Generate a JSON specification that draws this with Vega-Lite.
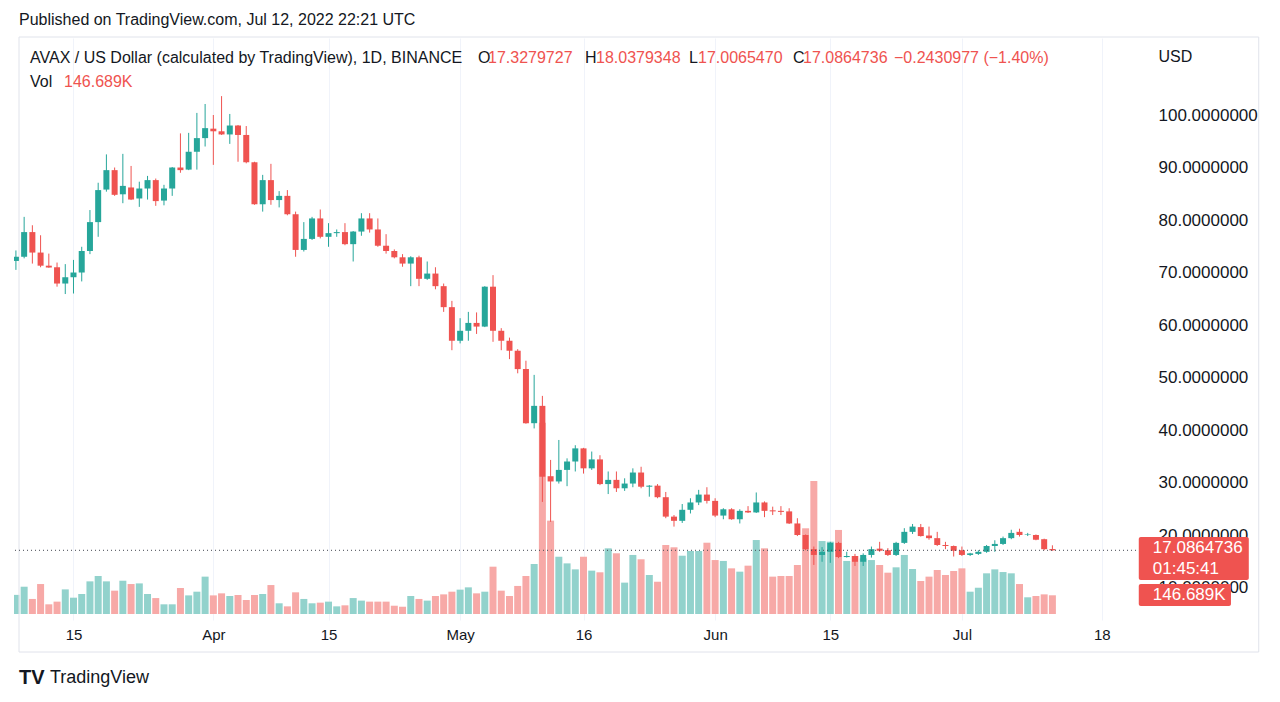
{
"$schema": "https://vega.github.io/schema/vega-lite/v6.json",
"width": 1126, "height": 582,
"autosize": {"type": "none"},
"padding": {"left": 14, "top": 38, "right": 140, "bottom": 82},
"background": "white",
"config": {"view": {"stroke": null}},
"data": {"values": [
{"d":"2022-03-08","o":72.2,"h":74.2,"l":70.5,"c":73.0,"v":150},
{"d":"2022-03-09","o":73.0,"h":80.6,"l":72.7,"c":77.7,"v":214},
{"d":"2022-03-10","o":77.7,"h":79.0,"l":71.7,"c":73.8,"v":118},
{"d":"2022-03-11","o":73.8,"h":77.1,"l":71.0,"c":71.3,"v":235},
{"d":"2022-03-12","o":71.3,"h":73.6,"l":70.9,"c":70.95,"v":76},
{"d":"2022-03-13","o":71.0,"h":71.9,"l":67.3,"c":67.9,"v":97},
{"d":"2022-03-14","o":67.9,"h":71.6,"l":65.9,"c":69.1,"v":193},
{"d":"2022-03-15","o":69.1,"h":72.4,"l":66.0,"c":70.0,"v":128},
{"d":"2022-03-16","o":70.0,"h":74.9,"l":68.3,"c":74.1,"v":157},
{"d":"2022-03-17","o":74.1,"h":81.9,"l":73.5,"c":79.6,"v":256},
{"d":"2022-03-18","o":79.6,"h":87.1,"l":76.8,"c":85.7,"v":298},
{"d":"2022-03-19","o":85.8,"h":92.5,"l":85.4,"c":89.5,"v":256},
{"d":"2022-03-20","o":89.5,"h":90.0,"l":84.6,"c":84.8,"v":183},
{"d":"2022-03-21","o":84.9,"h":92.6,"l":83.2,"c":86.5,"v":261},
{"d":"2022-03-22","o":86.2,"h":90.3,"l":83.8,"c":83.9,"v":235},
{"d":"2022-03-23","o":84.1,"h":87.3,"l":82.5,"c":86.0,"v":240},
{"d":"2022-03-24","o":86.0,"h":88.4,"l":83.9,"c":87.6,"v":157},
{"d":"2022-03-25","o":87.6,"h":87.9,"l":82.7,"c":83.6,"v":125},
{"d":"2022-03-26","o":83.7,"h":86.7,"l":82.8,"c":86.0,"v":76},
{"d":"2022-03-27","o":86.0,"h":90.1,"l":84.6,"c":90.0,"v":76},
{"d":"2022-03-28","o":90.0,"h":96.5,"l":89.0,"c":89.5,"v":204},
{"d":"2022-03-29","o":89.6,"h":96.6,"l":89.5,"c":93.0,"v":146},
{"d":"2022-03-30","o":93.0,"h":100.4,"l":89.6,"c":95.6,"v":175},
{"d":"2022-03-31","o":95.6,"h":102.1,"l":94.0,"c":97.5,"v":293},
{"d":"2022-04-01","o":97.4,"h":100.0,"l":90.5,"c":96.9,"v":146},
{"d":"2022-04-02","o":96.9,"h":103.6,"l":96.2,"c":96.3,"v":162},
{"d":"2022-04-03","o":96.3,"h":100.2,"l":94.5,"c":98.0,"v":141},
{"d":"2022-04-04","o":98.0,"h":98.1,"l":91.1,"c":96.2,"v":149},
{"d":"2022-04-05","o":96.2,"h":97.9,"l":90.8,"c":91.0,"v":110},
{"d":"2022-04-06","o":91.0,"h":91.1,"l":82.9,"c":83.0,"v":149},
{"d":"2022-04-07","o":83.0,"h":88.6,"l":81.6,"c":87.6,"v":157},
{"d":"2022-04-08","o":87.6,"h":90.7,"l":82.9,"c":83.8,"v":227},
{"d":"2022-04-09","o":83.8,"h":85.5,"l":82.4,"c":84.6,"v":84},
{"d":"2022-04-10","o":84.6,"h":85.7,"l":80.9,"c":81.1,"v":60},
{"d":"2022-04-11","o":81.1,"h":81.6,"l":73.0,"c":74.3,"v":170},
{"d":"2022-04-12","o":74.3,"h":79.6,"l":74.0,"c":76.4,"v":118},
{"d":"2022-04-13","o":76.4,"h":80.6,"l":76.2,"c":80.3,"v":84},
{"d":"2022-04-14","o":80.3,"h":82.0,"l":76.5,"c":76.8,"v":89},
{"d":"2022-04-15","o":76.8,"h":79.4,"l":74.9,"c":77.5,"v":97},
{"d":"2022-04-16","o":77.5,"h":78.2,"l":76.8,"c":77.7,"v":60},
{"d":"2022-04-17","o":77.7,"h":79.4,"l":75.2,"c":75.4,"v":68},
{"d":"2022-04-18","o":75.4,"h":77.9,"l":72.1,"c":77.8,"v":125},
{"d":"2022-04-19","o":77.8,"h":81.3,"l":77.0,"c":80.3,"v":105},
{"d":"2022-04-20","o":80.3,"h":81.3,"l":77.6,"c":78.2,"v":97},
{"d":"2022-04-21","o":78.2,"h":80.3,"l":74.9,"c":75.1,"v":97},
{"d":"2022-04-22","o":75.1,"h":77.3,"l":73.6,"c":74.1,"v":97},
{"d":"2022-04-23","o":74.1,"h":74.4,"l":72.7,"c":72.9,"v":65},
{"d":"2022-04-24","o":72.9,"h":73.5,"l":71.1,"c":71.7,"v":57},
{"d":"2022-04-25","o":71.7,"h":73.1,"l":67.4,"c":72.9,"v":141},
{"d":"2022-04-26","o":72.9,"h":73.2,"l":67.4,"c":68.8,"v":118},
{"d":"2022-04-27","o":68.8,"h":72.1,"l":68.6,"c":69.8,"v":105},
{"d":"2022-04-28","o":69.8,"h":71.0,"l":66.8,"c":67.4,"v":141},
{"d":"2022-04-29","o":67.4,"h":67.9,"l":62.5,"c":63.4,"v":154},
{"d":"2022-04-30","o":63.4,"h":64.6,"l":55.2,"c":57.0,"v":175},
{"d":"2022-05-01","o":57.0,"h":61.3,"l":56.5,"c":58.9,"v":191},
{"d":"2022-05-02","o":58.9,"h":62.5,"l":57.0,"c":60.4,"v":209},
{"d":"2022-05-03","o":60.4,"h":62.4,"l":58.3,"c":59.7,"v":162},
{"d":"2022-05-04","o":59.7,"h":67.4,"l":59.6,"c":67.3,"v":175},
{"d":"2022-05-05","o":67.3,"h":69.5,"l":56.8,"c":58.9,"v":371},
{"d":"2022-05-06","o":58.9,"h":59.4,"l":55.2,"c":57.0,"v":183},
{"d":"2022-05-07","o":57.0,"h":57.6,"l":53.5,"c":55.1,"v":141},
{"d":"2022-05-08","o":55.1,"h":55.4,"l":50.8,"c":51.6,"v":220},
{"d":"2022-05-09","o":51.6,"h":53.2,"l":41.2,"c":41.3,"v":298},
{"d":"2022-05-10","o":41.3,"h":50.5,"l":40.3,"c":44.6,"v":392},
{"d":"2022-05-11","o":44.6,"h":46.5,"l":26.3,"c":31.1,"v":1500},
{"d":"2022-05-12","o":31.2,"h":34.3,"l":22.5,"c":30.2,"v":732},
{"d":"2022-05-13","o":30.2,"h":38.1,"l":29.8,"c":32.4,"v":449},
{"d":"2022-05-14","o":32.4,"h":34.6,"l":29.3,"c":34.0,"v":397},
{"d":"2022-05-15","o":34.0,"h":37.1,"l":32.1,"c":36.5,"v":350},
{"d":"2022-05-16","o":36.5,"h":36.6,"l":31.7,"c":32.7,"v":449},
{"d":"2022-05-17","o":32.7,"h":35.9,"l":32.4,"c":34.4,"v":340},
{"d":"2022-05-18","o":34.4,"h":35.2,"l":29.5,"c":29.7,"v":327},
{"d":"2022-05-19","o":29.7,"h":32.1,"l":27.8,"c":30.5,"v":515},
{"d":"2022-05-20","o":30.5,"h":32.1,"l":28.2,"c":28.9,"v":476},
{"d":"2022-05-21","o":28.9,"h":30.8,"l":28.4,"c":29.8,"v":246},
{"d":"2022-05-22","o":29.8,"h":32.7,"l":29.1,"c":31.9,"v":463},
{"d":"2022-05-23","o":31.9,"h":33.0,"l":28.9,"c":29.2,"v":429},
{"d":"2022-05-24","o":29.2,"h":29.5,"l":27.3,"c":29.4,"v":306},
{"d":"2022-05-25","o":29.4,"h":29.7,"l":27.0,"c":27.2,"v":253},
{"d":"2022-05-26","o":27.2,"h":28.2,"l":23.2,"c":23.5,"v":541},
{"d":"2022-05-27","o":23.5,"h":23.8,"l":21.6,"c":22.7,"v":523},
{"d":"2022-05-28","o":22.7,"h":25.9,"l":22.3,"c":24.8,"v":457},
{"d":"2022-05-29","o":24.8,"h":27.0,"l":24.1,"c":26.2,"v":494},
{"d":"2022-05-30","o":26.2,"h":28.6,"l":25.7,"c":27.7,"v":494},
{"d":"2022-05-31","o":27.7,"h":29.1,"l":26.0,"c":26.5,"v":559},
{"d":"2022-06-01","o":26.5,"h":27.0,"l":23.4,"c":23.7,"v":423},
{"d":"2022-06-02","o":23.7,"h":25.1,"l":23.0,"c":24.9,"v":416},
{"d":"2022-06-03","o":24.9,"h":25.1,"l":22.9,"c":23.0,"v":358},
{"d":"2022-06-04","o":23.0,"h":24.9,"l":22.2,"c":24.6,"v":332},
{"d":"2022-06-05","o":24.6,"h":25.5,"l":24.2,"c":24.3,"v":379},
{"d":"2022-06-06","o":24.3,"h":28.1,"l":24.2,"c":26.2,"v":580},
{"d":"2022-06-07","o":26.2,"h":26.4,"l":23.4,"c":24.6,"v":515},
{"d":"2022-06-08","o":24.7,"h":25.4,"l":23.8,"c":24.5,"v":293},
{"d":"2022-06-09","o":24.6,"h":25.5,"l":23.8,"c":24.4,"v":298},
{"d":"2022-06-10","o":24.5,"h":25.1,"l":22.1,"c":22.2,"v":298},
{"d":"2022-06-11","o":22.2,"h":23.2,"l":19.8,"c":20.0,"v":384},
{"d":"2022-06-12","o":20.0,"h":20.1,"l":17.1,"c":17.3,"v":672},
{"d":"2022-06-13","o":17.3,"h":17.8,"l":14.3,"c":16.2,"v":1043},
{"d":"2022-06-14","o":16.2,"h":17.7,"l":14.9,"c":16.8,"v":572},
{"d":"2022-06-15","o":16.8,"h":18.7,"l":14.7,"c":18.5,"v":567},
{"d":"2022-06-16","o":18.5,"h":18.7,"l":15.6,"c":15.8,"v":659},
{"d":"2022-06-17","o":15.8,"h":16.8,"l":15.7,"c":16.0,"v":416},
{"d":"2022-06-18","o":16.0,"h":16.4,"l":14.1,"c":14.9,"v":455},
{"d":"2022-06-19","o":14.9,"h":16.5,"l":14.1,"c":16.2,"v":436},
{"d":"2022-06-20","o":16.2,"h":17.8,"l":15.7,"c":17.3,"v":423},
{"d":"2022-06-21","o":17.4,"h":18.7,"l":16.8,"c":17.0,"v":384},
{"d":"2022-06-22","o":17.1,"h":17.5,"l":16.0,"c":16.2,"v":324},
{"d":"2022-06-23","o":16.2,"h":18.7,"l":16.0,"c":18.5,"v":366},
{"d":"2022-06-24","o":18.5,"h":21.3,"l":18.3,"c":20.6,"v":463},
{"d":"2022-06-25","o":20.6,"h":22.1,"l":20.2,"c":21.6,"v":353},
{"d":"2022-06-26","o":21.5,"h":22.1,"l":19.7,"c":19.8,"v":259},
{"d":"2022-06-27","o":19.9,"h":21.6,"l":19.1,"c":19.4,"v":293},
{"d":"2022-06-28","o":19.4,"h":20.6,"l":17.9,"c":18.1,"v":345},
{"d":"2022-06-29","o":18.1,"h":18.7,"l":17.3,"c":17.9,"v":306},
{"d":"2022-06-30","o":17.9,"h":18.0,"l":15.9,"c":17.0,"v":337},
{"d":"2022-07-01","o":17.1,"h":17.8,"l":16.0,"c":16.2,"v":358},
{"d":"2022-07-02","o":16.2,"h":16.6,"l":16.0,"c":16.5,"v":175},
{"d":"2022-07-03","o":16.4,"h":17.1,"l":16.2,"c":16.8,"v":206},
{"d":"2022-07-04","o":16.8,"h":18.1,"l":16.6,"c":17.9,"v":319},
{"d":"2022-07-05","o":17.9,"h":19.0,"l":16.8,"c":18.3,"v":350},
{"d":"2022-07-06","o":18.3,"h":19.7,"l":18.1,"c":19.4,"v":329},
{"d":"2022-07-07","o":19.4,"h":21.0,"l":19.2,"c":20.4,"v":319},
{"d":"2022-07-08","o":20.6,"h":21.2,"l":19.7,"c":20.0,"v":235},
{"d":"2022-07-09","o":20.0,"h":20.4,"l":19.8,"c":20.1,"v":131},
{"d":"2022-07-10","o":20.0,"h":20.1,"l":19.0,"c":19.1,"v":141},
{"d":"2022-07-11","o":19.2,"h":19.3,"l":17.1,"c":17.3,"v":154},
{"d":"2022-07-12","o":17.3279727,"h":18.0379348,"l":17.006547,"c":17.0864736,"v":146.689}
]},
"layer": [
{
 "mark": {"type": "bar", "size": 7, "clip": true},
 "encoding": {
  "x": {"field": "d", "type": "temporal",
        "scale": {"type": "utc", "domain": [{"year":2022,"month":3,"date":8,"hours":9,"utc":true},{"year":2022,"month":7,"date":22,"hours":1,"utc":true}]},
        "axis": {"title": null, "ticks": false, "domain": false, "labelPadding": 7, "labelFont": "Liberation Sans", "labelFontSize": 15, "labelColor": "#131722", "gridColor": "#f0f3fa", "labelOverlap": false, "labelFlush": false,
                 "values": [{"year":2022,"month":3,"date":15,"utc":true},{"year":2022,"month":4,"date":1,"utc":true},{"year":2022,"month":4,"date":15,"utc":true},{"year":2022,"month":5,"date":1,"utc":true},{"year":2022,"month":5,"date":16,"utc":true},{"year":2022,"month":6,"date":1,"utc":true},{"year":2022,"month":6,"date":15,"utc":true},{"year":2022,"month":7,"date":1,"utc":true},{"year":2022,"month":7,"date":18,"utc":true}],
                 "labelExpr": "utcdate(datum.value) == 1 ? utcFormat(datum.value, '%b') : utcFormat(datum.value, '%-d')"}},
  "y": {"field": "v", "type": "quantitative", "scale": {"domain": [-47, 4516]}, "axis": null},
  "color": {"condition": {"test": "datum.c >= datum.o", "value": "#92d2cc"}, "value": "#f7a9a7"}
 }
},
{
 "layer": [
  {
   "data": {"values": [{}]},
   "mark": {"type": "rect", "fill": null, "filled": false, "stroke": "#e0e3eb", "strokeWidth": 1, "clip": false},
   "encoding": {
    "x": {"datum": {"year":2022,"month":3,"date":8,"hours":9,"utc":true}, "type": "temporal", "scale": {"type": "utc", "domain": [{"year":2022,"month":3,"date":8,"hours":9,"utc":true},{"year":2022,"month":7,"date":22,"hours":1,"utc":true}]}},
    "x2": {"datum": {"year":2022,"month":8,"date":6,"hours":2,"utc":true}},
    "y": {"datum": 114.86, "type": "quantitative", "scale": {"domain": [3.81, 114.67]}},
    "y2": {"datum": -2.29}
   }
  },
  {
   "mark": {"type": "rule", "strokeWidth": 1, "clip": true},
   "encoding": {
    "x": {"field": "d", "type": "temporal", "scale": {"type": "utc", "domain": [{"year":2022,"month":3,"date":8,"hours":9,"utc":true},{"year":2022,"month":7,"date":22,"hours":1,"utc":true}]}},
    "y": {"field": "l", "type": "quantitative", "scale": {"domain": [3.81, 114.67]},
          "axis": {"orient": "right", "values": [10,20,30,40,50,60,70,80,90,100], "format": ".7f", "ticks": false, "domain": false, "labelPadding": 18, "labelFont": "Liberation Sans", "labelFontSize": 17, "labelColor": "#131722", "gridColor": "#f0f3fa",
                   "title": "USD", "titleAngle": 0, "titleAlign": "left", "titleBaseline": "middle", "titleX": 18, "titleY": 18, "titleFont": "Liberation Sans", "titleFontSize": 16, "titleFontWeight": "normal", "titleColor": "#131722"}},
    "y2": {"field": "h"},
    "color": {"condition": {"test": "datum.c >= datum.o", "value": "#26a69a"}, "value": "#ef5350"}
   }
  },
  {
   "mark": {"type": "bar", "size": 6, "clip": true},
   "encoding": {
    "x": {"field": "d", "type": "temporal", "scale": {"type": "utc", "domain": [{"year":2022,"month":3,"date":8,"hours":9,"utc":true},{"year":2022,"month":7,"date":22,"hours":1,"utc":true}]}},
    "y": {"field": "o", "type": "quantitative", "scale": {"domain": [3.81, 114.67]}},
    "y2": {"field": "c"},
    "color": {"condition": {"test": "datum.c >= datum.o", "value": "#26a69a"}, "value": "#ef5350"}
   }
  },
  {
   "data": {"values": [{}]},
   "mark": {"type": "rule", "color": "#434651", "strokeWidth": 1, "strokeDash": [1, 3]},
   "encoding": {"y": {"datum": 17.0864736, "type": "quantitative", "scale": {"domain": [3.81, 114.67]}}}
  },
  {
   "data": {"values": [{}]},
   "mark": {"type": "rect", "color": "#ef5350", "cornerRadius": 2, "clip": false},
   "encoding": {
    "x": {"datum": {"year":2022,"month":7,"date":22,"hours":12,"utc":true}, "type": "temporal", "scale": {"type": "utc", "domain": [{"year":2022,"month":3,"date":8,"hours":9,"utc":true},{"year":2022,"month":7,"date":22,"hours":1,"utc":true}]}},
    "x2": {"datum": {"year":2022,"month":8,"date":4,"hours":21,"utc":true}},
    "y": {"datum": 19.62, "type": "quantitative", "scale": {"domain": [3.81, 114.67]}},
    "y2": {"datum": 11.43}
   }
  },
  {
   "data": {"values": [{}]},
   "mark": {"type": "rect", "color": "#ef5350", "cornerRadius": 2, "clip": false},
   "encoding": {
    "x": {"datum": {"year":2022,"month":7,"date":22,"hours":12,"utc":true}, "type": "temporal", "scale": {"type": "utc", "domain": [{"year":2022,"month":3,"date":8,"hours":9,"utc":true},{"year":2022,"month":7,"date":22,"hours":1,"utc":true}]}},
    "x2": {"datum": {"year":2022,"month":8,"date":2,"hours":17,"utc":true}},
    "y": {"datum": 10.67, "type": "quantitative", "scale": {"domain": [3.81, 114.67]}},
    "y2": {"datum": 6.48}
   }
  },
  {
   "data": {"values": [{}]},
   "mark": {"type": "text", "text": "17.0864736", "align": "left", "baseline": "middle", "font": "Liberation Sans", "fontSize": 17, "color": "white", "clip": false},
   "encoding": {
    "x": {"datum": {"year":2022,"month":7,"date":24,"hours":5,"utc":true}, "type": "temporal", "scale": {"type": "utc", "domain": [{"year":2022,"month":3,"date":8,"hours":9,"utc":true},{"year":2022,"month":7,"date":22,"hours":1,"utc":true}]}},
    "y": {"datum": 17.52, "type": "quantitative", "scale": {"domain": [3.81, 114.67]}}
   }
  },
  {
   "data": {"values": [{}]},
   "mark": {"type": "text", "text": "01:45:41", "align": "left", "baseline": "middle", "font": "Liberation Sans", "fontSize": 17, "color": "white", "clip": false},
   "encoding": {
    "x": {"datum": {"year":2022,"month":7,"date":24,"hours":5,"utc":true}, "type": "temporal", "scale": {"type": "utc", "domain": [{"year":2022,"month":3,"date":8,"hours":9,"utc":true},{"year":2022,"month":7,"date":22,"hours":1,"utc":true}]}},
    "y": {"datum": 13.52, "type": "quantitative", "scale": {"domain": [3.81, 114.67]}}
   }
  },
  {
   "data": {"values": [{}]},
   "mark": {"type": "text", "text": "146.689K", "align": "left", "baseline": "middle", "font": "Liberation Sans", "fontSize": 17, "color": "white", "clip": false},
   "encoding": {
    "x": {"datum": {"year":2022,"month":7,"date":24,"hours":5,"utc":true}, "type": "temporal", "scale": {"type": "utc", "domain": [{"year":2022,"month":3,"date":8,"hours":9,"utc":true},{"year":2022,"month":7,"date":22,"hours":1,"utc":true}]}},
    "y": {"datum": 8.57, "type": "quantitative", "scale": {"domain": [3.81, 114.67]}}
   }
  },
  {
   "data": {"values": [{}]},
   "mark": {"type": "text", "text": "Published on TradingView.com, Jul 12, 2022 22:21 UTC", "align": "left", "baseline": "middle", "font": "Liberation Sans", "fontSize": 16, "color": "#131722", "clip": false},
   "encoding": {
    "x": {"datum": {"year":2022,"month":3,"date":8,"hours":9,"utc":true}, "type": "temporal", "scale": {"type": "utc", "domain": [{"year":2022,"month":3,"date":8,"hours":9,"utc":true},{"year":2022,"month":7,"date":22,"hours":1,"utc":true}]}},
    "y": {"datum": 118.1, "type": "quantitative", "scale": {"domain": [3.81, 114.67]}}
   }
  },
  {
   "data": {"values": [{}]},
   "mark": {"type": "text", "text": "AVAX / US Dollar (calculated by TradingView), 1D, BINANCE", "dx": 11, "align": "left", "baseline": "middle", "font": "Liberation Sans", "fontSize": 16, "color": "#131722", "clip": false},
   "encoding": {
    "x": {"datum": {"year":2022,"month":3,"date":8,"hours":9,"utc":true}, "type": "temporal", "scale": {"type": "utc", "domain": [{"year":2022,"month":3,"date":8,"hours":9,"utc":true},{"year":2022,"month":7,"date":22,"hours":1,"utc":true}]}},
    "y": {"datum": 110.86, "type": "quantitative", "scale": {"domain": [3.81, 114.67]}}
   }
  },
  {
   "data": {"values": [{}]},
   "mark": {"type": "text", "text": "O", "dx": 459, "align": "left", "baseline": "middle", "font": "Liberation Sans", "fontSize": 16, "color": "#131722", "clip": false},
   "encoding": {
    "x": {"datum": {"year":2022,"month":3,"date":8,"hours":9,"utc":true}, "type": "temporal", "scale": {"type": "utc", "domain": [{"year":2022,"month":3,"date":8,"hours":9,"utc":true},{"year":2022,"month":7,"date":22,"hours":1,"utc":true}]}},
    "y": {"datum": 110.86, "type": "quantitative", "scale": {"domain": [3.81, 114.67]}}
   }
  },
  {
   "data": {"values": [{}]},
   "mark": {"type": "text", "text": "17.3279727", "dx": 469, "align": "left", "baseline": "middle", "font": "Liberation Sans", "fontSize": 16, "color": "#ef5350", "clip": false},
   "encoding": {
    "x": {"datum": {"year":2022,"month":3,"date":8,"hours":9,"utc":true}, "type": "temporal", "scale": {"type": "utc", "domain": [{"year":2022,"month":3,"date":8,"hours":9,"utc":true},{"year":2022,"month":7,"date":22,"hours":1,"utc":true}]}},
    "y": {"datum": 110.86, "type": "quantitative", "scale": {"domain": [3.81, 114.67]}}
   }
  },
  {
   "data": {"values": [{}]},
   "mark": {"type": "text", "text": "H", "dx": 566, "align": "left", "baseline": "middle", "font": "Liberation Sans", "fontSize": 16, "color": "#131722", "clip": false},
   "encoding": {
    "x": {"datum": {"year":2022,"month":3,"date":8,"hours":9,"utc":true}, "type": "temporal", "scale": {"type": "utc", "domain": [{"year":2022,"month":3,"date":8,"hours":9,"utc":true},{"year":2022,"month":7,"date":22,"hours":1,"utc":true}]}},
    "y": {"datum": 110.86, "type": "quantitative", "scale": {"domain": [3.81, 114.67]}}
   }
  },
  {
   "data": {"values": [{}]},
   "mark": {"type": "text", "text": "18.0379348", "dx": 577, "align": "left", "baseline": "middle", "font": "Liberation Sans", "fontSize": 16, "color": "#ef5350", "clip": false},
   "encoding": {
    "x": {"datum": {"year":2022,"month":3,"date":8,"hours":9,"utc":true}, "type": "temporal", "scale": {"type": "utc", "domain": [{"year":2022,"month":3,"date":8,"hours":9,"utc":true},{"year":2022,"month":7,"date":22,"hours":1,"utc":true}]}},
    "y": {"datum": 110.86, "type": "quantitative", "scale": {"domain": [3.81, 114.67]}}
   }
  },
  {
   "data": {"values": [{}]},
   "mark": {"type": "text", "text": "L", "dx": 670, "align": "left", "baseline": "middle", "font": "Liberation Sans", "fontSize": 16, "color": "#131722", "clip": false},
   "encoding": {
    "x": {"datum": {"year":2022,"month":3,"date":8,"hours":9,"utc":true}, "type": "temporal", "scale": {"type": "utc", "domain": [{"year":2022,"month":3,"date":8,"hours":9,"utc":true},{"year":2022,"month":7,"date":22,"hours":1,"utc":true}]}},
    "y": {"datum": 110.86, "type": "quantitative", "scale": {"domain": [3.81, 114.67]}}
   }
  },
  {
   "data": {"values": [{}]},
   "mark": {"type": "text", "text": "17.0065470", "dx": 679, "align": "left", "baseline": "middle", "font": "Liberation Sans", "fontSize": 16, "color": "#ef5350", "clip": false},
   "encoding": {
    "x": {"datum": {"year":2022,"month":3,"date":8,"hours":9,"utc":true}, "type": "temporal", "scale": {"type": "utc", "domain": [{"year":2022,"month":3,"date":8,"hours":9,"utc":true},{"year":2022,"month":7,"date":22,"hours":1,"utc":true}]}},
    "y": {"datum": 110.86, "type": "quantitative", "scale": {"domain": [3.81, 114.67]}}
   }
  },
  {
   "data": {"values": [{}]},
   "mark": {"type": "text", "text": "C", "dx": 774, "align": "left", "baseline": "middle", "font": "Liberation Sans", "fontSize": 16, "color": "#131722", "clip": false},
   "encoding": {
    "x": {"datum": {"year":2022,"month":3,"date":8,"hours":9,"utc":true}, "type": "temporal", "scale": {"type": "utc", "domain": [{"year":2022,"month":3,"date":8,"hours":9,"utc":true},{"year":2022,"month":7,"date":22,"hours":1,"utc":true}]}},
    "y": {"datum": 110.86, "type": "quantitative", "scale": {"domain": [3.81, 114.67]}}
   }
  },
  {
   "data": {"values": [{}]},
   "mark": {"type": "text", "text": "17.0864736", "dx": 784, "align": "left", "baseline": "middle", "font": "Liberation Sans", "fontSize": 16, "color": "#ef5350", "clip": false},
   "encoding": {
    "x": {"datum": {"year":2022,"month":3,"date":8,"hours":9,"utc":true}, "type": "temporal", "scale": {"type": "utc", "domain": [{"year":2022,"month":3,"date":8,"hours":9,"utc":true},{"year":2022,"month":7,"date":22,"hours":1,"utc":true}]}},
    "y": {"datum": 110.86, "type": "quantitative", "scale": {"domain": [3.81, 114.67]}}
   }
  },
  {
   "data": {"values": [{}]},
   "mark": {"type": "text", "text": "−0.2430977 (−1.40%)", "dx": 875, "align": "left", "baseline": "middle", "font": "Liberation Sans", "fontSize": 16, "color": "#ef5350", "clip": false},
   "encoding": {
    "x": {"datum": {"year":2022,"month":3,"date":8,"hours":9,"utc":true}, "type": "temporal", "scale": {"type": "utc", "domain": [{"year":2022,"month":3,"date":8,"hours":9,"utc":true},{"year":2022,"month":7,"date":22,"hours":1,"utc":true}]}},
    "y": {"datum": 110.86, "type": "quantitative", "scale": {"domain": [3.81, 114.67]}}
   }
  },
  {
   "data": {"values": [{}]},
   "mark": {"type": "text", "text": "Vol", "dx": 11, "align": "left", "baseline": "middle", "font": "Liberation Sans", "fontSize": 16, "color": "#131722", "clip": false},
   "encoding": {
    "x": {"datum": {"year":2022,"month":3,"date":8,"hours":9,"utc":true}, "type": "temporal", "scale": {"type": "utc", "domain": [{"year":2022,"month":3,"date":8,"hours":9,"utc":true},{"year":2022,"month":7,"date":22,"hours":1,"utc":true}]}},
    "y": {"datum": 106.29, "type": "quantitative", "scale": {"domain": [3.81, 114.67]}}
   }
  },
  {
   "data": {"values": [{}]},
   "mark": {"type": "text", "text": "146.689K", "dx": 45, "align": "left", "baseline": "middle", "font": "Liberation Sans", "fontSize": 16, "color": "#ef5350", "clip": false},
   "encoding": {
    "x": {"datum": {"year":2022,"month":3,"date":8,"hours":9,"utc":true}, "type": "temporal", "scale": {"type": "utc", "domain": [{"year":2022,"month":3,"date":8,"hours":9,"utc":true},{"year":2022,"month":7,"date":22,"hours":1,"utc":true}]}},
    "y": {"datum": 106.29, "type": "quantitative", "scale": {"domain": [3.81, 114.67]}}
   }
  },
  {
   "data": {"values": [{}]},
   "mark": {"type": "text", "text": "TV", "dx": 0, "align": "left", "baseline": "middle", "font": "Liberation Sans", "fontSize": 20, "fontWeight": "bold", "color": "#131722", "clip": false},
   "encoding": {
    "x": {"datum": {"year":2022,"month":3,"date":8,"hours":9,"utc":true}, "type": "temporal", "scale": {"type": "utc", "domain": [{"year":2022,"month":3,"date":8,"hours":9,"utc":true},{"year":2022,"month":7,"date":22,"hours":1,"utc":true}]}},
    "y": {"datum": -7.24, "type": "quantitative", "scale": {"domain": [3.81, 114.67]}}
   }
  },
  {
   "data": {"values": [{}]},
   "mark": {"type": "text", "text": "TradingView", "dx": 31, "align": "left", "baseline": "middle", "font": "Liberation Sans", "fontSize": 18, "color": "#131722", "clip": false},
   "encoding": {
    "x": {"datum": {"year":2022,"month":3,"date":8,"hours":9,"utc":true}, "type": "temporal", "scale": {"type": "utc", "domain": [{"year":2022,"month":3,"date":8,"hours":9,"utc":true},{"year":2022,"month":7,"date":22,"hours":1,"utc":true}]}},
    "y": {"datum": -7.24, "type": "quantitative", "scale": {"domain": [3.81, 114.67]}}
   }
  }
 ]
}
],
"resolve": {"scale": {"y": "independent"}}
}
